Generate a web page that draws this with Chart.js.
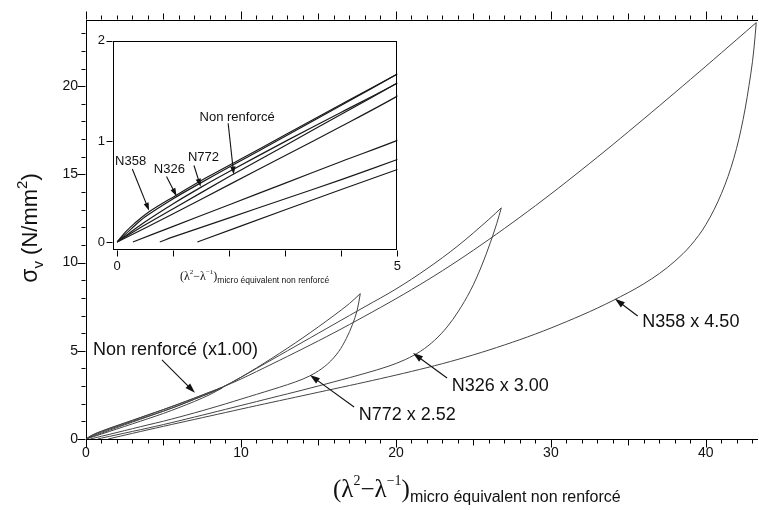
<!DOCTYPE html>
<html>
<head>
<meta charset="utf-8">
<script src="https://cdn.jsdelivr.net/npm/chart.js@4.4.1/dist/chart.umd.min.js"></script>
<style>
  html, body { margin: 0; padding: 0; background: #fff; }
  #wrap { position: relative; width: 759px; height: 510px; }
  #main { position: absolute; left: 0; top: 0; }
  #inset { position: absolute; left: 90px; top: 25px; }
</style>
</head>
<body>
<div id="wrap">
  <canvas id="main" width="759" height="510"></canvas>
  <canvas id="inset" width="320" height="268"></canvas>
</div>
<script>
const SANS = '"Liberation Sans", Arial, Helvetica, sans-serif';
const SERIF = '"Liberation Serif", "Times New Roman", serif';

// Non renforcé : charge / décharge
const nrLoadX = [0, 0.5, 1, 2, 3, 4, 5, 6, 7, 8, 8.8];
const nrLoadY = [0, 0.17, 0.33, 0.65, 0.96, 1.27, 1.58, 1.9, 2.25, 2.6, 2.9];
const nrUnloadX = [8.8, 8, 7, 6, 5, 4, 3, 2, 1, 0];
const nrUnloadY = [2.9, 2.52, 2.13, 1.78, 1.45, 1.15, 0.86, 0.57, 0.28, 0];

// N772 x 2.52
const n772LoadX = [0, 0.5, 1, 1.5, 2, 3, 4, 5, 6, 7, 8, 8.8, 10, 11, 12, 13, 14, 15, 16, 17, 17.7];
const n772LoadY = [0, 0.2, 0.38, 0.545, 0.7, 1.0, 1.29, 1.58, 1.91, 2.26, 2.62, 2.92, 3.5, 4.03, 4.58, 5.15, 5.74, 6.36, 7.0, 7.68, 8.24];
const n772UnloadX = [17.7, 17.5, 17.2, 16.8, 16.3, 15.6, 14.8, 14, 13, 12, 11, 10, 9, 8, 7, 6, 5, 4, 3, 2, 1, 0.28];
const n772UnloadY = [8.24, 7.3, 6.5, 5.7, 4.95, 4.26, 3.75, 3.4, 3.08, 2.8, 2.53, 2.26, 1.99, 1.73, 1.48, 1.24, 1.01, 0.8, 0.585, 0.37, 0.155, 0];

// N326 x 3.00
const n326LoadX = [0, 0.25, 0.5, 1, 1.5, 2, 3, 4, 5, 6, 7, 8, 8.8, 10, 12, 14, 16, 18, 20, 22, 24, 26, 26.8];
const n326LoadY = [0, 0.13, 0.25, 0.43, 0.59, 0.745, 1.05, 1.36, 1.67, 1.99, 2.32, 2.66, 2.94, 3.5, 4.5, 5.5, 6.5, 7.5, 8.5, 9.65, 10.95, 12.45, 13.1];
const n326UnloadX = [26.8, 26.5, 26.1, 25.5, 24.8, 24, 23.3, 22.5, 21.6, 20.6, 19.5, 18, 16, 14, 12, 10, 8, 6, 5, 4, 3, 2, 1, 0.76];
const n326UnloadY = [13.1, 12.2, 11.15, 9.75, 8.4, 7.2, 6.35, 5.6, 4.98, 4.5, 4.12, 3.72, 3.24, 2.78, 2.34, 1.9, 1.46, 1.03, 0.82, 0.62, 0.43, 0.24, 0.05, 0];

// N358 x 4.50
const n358LoadX = [0, 0.15, 0.3, 0.57, 1.04, 1.61, 2.19, 3, 4, 5, 6, 7, 8, 8.8, 10, 12, 14, 16, 18, 20, 22, 24, 26, 28, 30, 32, 34, 36, 38, 40, 42, 43.25];
const n358LoadY = [0, 0.1, 0.18, 0.3, 0.46, 0.645, 0.82, 1.065, 1.37, 1.67, 1.99, 2.32, 2.66, 2.94, 3.4, 4.25, 5.12, 6.02, 6.97, 7.95, 8.99, 10.11, 11.31, 12.57, 13.89, 15.27, 16.69, 18.15, 19.63, 21.13, 22.65, 23.6];
const n358UnloadX = [43.25, 43.1, 42.9, 42.4, 41.8, 41, 40, 39, 38, 37, 36, 35, 33, 31, 29, 27, 25, 23, 21, 19, 17, 15, 13, 11, 9, 7, 5, 3, 1.43];
const n358UnloadY = [23.6, 22.1, 20.7, 18.1, 15.9, 13.9, 12.15, 10.95, 10.08, 9.38, 8.8, 8.3, 7.42, 6.65, 5.95, 5.33, 4.77, 4.27, 3.83, 3.42, 3.03, 2.65, 2.27, 1.89, 1.5, 1.11, 0.72, 0.32, 0];

// Graduations étiquetées
const mainXLabels = [0, 10, 20, 30, 40];
const mainYLabels = [0, 5, 10, 15, 20];
const insetXLabels = [0, 5];
const insetYLabels = [0, 1, 2];

const curves = [
    [nrLoadX, nrLoadY], [nrUnloadX, nrUnloadY],
    [n772LoadX, n772LoadY], [n772UnloadX, n772UnloadY],
    [n326LoadX, n326LoadY], [n326UnloadX, n326UnloadY],
    [n358LoadX, n358LoadY], [n358UnloadX, n358UnloadY]
];

// Annotations (coordonnées en unités des données)
const mainNotes = [
    { text: 'Non renforcé (x1.00)', at: [0.45, 5.04], from: [4.9, 4.48], to: [7.03, 2.62] },
    { text: 'N772 x 2.52', at: [17.6, 1.36], from: [17.3, 1.81], to: [14.45, 3.63] },
    { text: 'N326 x 3.00', at: [23.6, 3.0], from: [23.3, 3.46], to: [21.1, 4.87] },
    { text: 'N358 x 4.50', at: [35.9, 6.63], from: [35.6, 6.97], to: [34.13, 7.95] }
];
const insetNotes = [
    { text: 'N358', at: [0.24, 0.8], from: [0.27, 0.725], to: [0.57, 0.31] },
    { text: 'N326', at: [0.93, 0.725], from: [0.88, 0.65], to: [1.06, 0.455] },
    { text: 'N772', at: [1.54, 0.84], from: [1.37, 0.76], to: [1.49, 0.55] },
    { text: 'Non renforcé', at: [2.14, 1.24], from: [1.98, 1.18], to: [2.08, 0.67] }
];

function makeDatasets(color, width) {
    return curves.map(function (c) {
        return {
            data: c[0].map((x, i) => ({ x: x, y: c[1][i] })),
            borderColor: color,
            borderWidth: width,
            pointRadius: 0,
            fill: false,
            tension: 0.35
        };
    });
}

function drawRich(ctx, parts, x, y) {
    let cx = x;
    parts.forEach(function (p) {
        ctx.font = p.font;
        ctx.fillText(p.t, cx, y + (p.dy || 0));
        cx += ctx.measureText(p.t).width;
    });
    return cx;
}

function richWidth(ctx, parts) {
    let w = 0;
    parts.forEach(function (p) { ctx.font = p.font; w += ctx.measureText(p.t).width; });
    return w;
}

function drawArrow(ctx, x0, y0, x1, y1, head) {
    const a = Math.atan2(y1 - y0, x1 - x0);
    const c = Math.cos(a), s = Math.sin(a);
    ctx.beginPath();
    ctx.moveTo(x0, y0);
    ctx.lineTo(x1 - c * head * 0.7, y1 - s * head * 0.7);
    ctx.stroke();
    ctx.beginPath();
    ctx.moveTo(x1, y1);
    ctx.lineTo(x1 - head * c + head * 0.33 * s, y1 - head * s - head * 0.33 * c);
    ctx.lineTo(x1 - head * c - head * 0.33 * s, y1 - head * s + head * 0.33 * c);
    ctx.closePath();
    ctx.fill();
}

// Petites graduations dessinées à partir des échelles
function drawTicks(ctx, scale, side, lenFor) {
    ctx.beginPath();
    for (let v = Math.ceil(scale.min); v <= Math.floor(scale.max); v++) {
        const len = lenFor(v);
        if (!len) continue;
        const p = Math.round(scale.getPixelForValue(v)) + 0.5;
        if (side === 'bottom') {
            const b = Math.round(scale.top) + 0.5;
            ctx.moveTo(p, b); ctx.lineTo(p, b + len);
        } else if (side === 'top') {
            const b = Math.round(scale.bottom) - 0.5;
            ctx.moveTo(p, b); ctx.lineTo(p, b - len);
        } else {
            const b = Math.round(scale.right) - 0.5;
            ctx.moveTo(b, p); ctx.lineTo(b - len, p);
        }
    }
    ctx.stroke();
}

function drawNotes(chart, notes, font, head, align) {
    const ctx = chart.ctx, sx = chart.scales.x, sy = chart.scales.y;
    ctx.save();
    ctx.fillStyle = '#111';
    ctx.strokeStyle = '#111';
    ctx.lineWidth = 1.1;
    ctx.font = font;
    ctx.textAlign = align;
    ctx.textBaseline = 'middle';
    notes.forEach(function (n) {
        ctx.fillText(n.text, sx.getPixelForValue(n.at[0]), sy.getPixelForValue(n.at[1]));
        drawArrow(ctx, sx.getPixelForValue(n.from[0]), sy.getPixelForValue(n.from[1]),
            sx.getPixelForValue(n.to[0]), sy.getPixelForValue(n.to[1]), head);
    });
    ctx.restore();
}

const mainDecor = {
    id: 'mainDecor',
    afterDraw: function (chart) {
        const ctx = chart.ctx, area = chart.chartArea;
        ctx.save();
        ctx.strokeStyle = '#000';
        ctx.lineWidth = 1;
        const xLen = v => v % 10 === 0 ? 8 : (v % 5 === 0 ? 6 : 4);
        drawTicks(ctx, chart.scales.x, 'bottom', xLen);
        drawTicks(ctx, chart.scales.x2, 'top', xLen);
        drawTicks(ctx, chart.scales.y, 'left', v => v % 5 === 0 ? 8 : 4);

        ctx.fillStyle = '#111';
        ctx.textAlign = 'left';
        ctx.textBaseline = 'alphabetic';
        // titre de l'axe x
        drawRich(ctx, [
            { t: '(λ', font: '25px ' + SERIF },
            { t: '2', font: '14px ' + SERIF, dy: -12 },
            { t: '−λ', font: '25px ' + SERIF },
            { t: '−1', font: '14px ' + SERIF, dy: -12 },
            { t: ')', font: '25px ' + SERIF },
            { t: 'micro équivalent non renforcé', font: '16px ' + SANS, dy: 5 }
        ], area.left + 247, area.bottom + 58);

        // titre de l'axe y
        const yParts = [
            { t: 'σ', font: '23px ' + SANS },
            { t: 'v', font: '15px ' + SANS, dy: 6 },
            { t: ' (N/mm', font: '22px ' + SANS },
            { t: '2', font: '15px ' + SANS, dy: -10 },
            { t: ')', font: '22px ' + SANS }
        ];
        ctx.translate(37, 228);
        ctx.rotate(-Math.PI / 2);
        drawRich(ctx, yParts, -richWidth(ctx, yParts) / 2, 0);
        ctx.restore();

        drawNotes(chart, mainNotes, '18px ' + SANS, 10, 'left');
    }
};

const insetDecor = {
    id: 'insetDecor',
    beforeDraw: function (chart) {
        const a = chart.chartArea, ctx = chart.ctx;
        ctx.save();
        ctx.fillStyle = '#fff';
        ctx.fillRect(a.left, a.top, a.right - a.left, a.bottom - a.top);
        ctx.restore();
    },
    afterDraw: function (chart) {
        const ctx = chart.ctx, a = chart.chartArea;
        ctx.save();
        ctx.strokeStyle = '#000';
        ctx.lineWidth = 1;
        ctx.strokeRect(Math.round(a.left) + 0.5, Math.round(a.top) + 0.5,
            Math.round(a.right - a.left) - 1, Math.round(a.bottom - a.top) - 1);
        drawTicks(ctx, chart.scales.x, 'bottom', v => 6);
        drawTicks(ctx, chart.scales.y, 'left', v => 6);

        ctx.fillStyle = '#111';
        ctx.textBaseline = 'alphabetic';
        drawRich(ctx, [
            { t: '(λ', font: '12px ' + SERIF },
            { t: '2', font: '7px ' + SERIF, dy: -6 },
            { t: '−λ', font: '12px ' + SERIF },
            { t: '−1', font: '7px ' + SERIF, dy: -6 },
            { t: ')', font: '12px ' + SERIF },
            { t: 'micro équivalent non renforcé', font: '8.5px ' + SANS, dy: 3 }
        ], a.left + 67, a.bottom + 30);
        ctx.restore();

        drawNotes(chart, insetNotes, '13px ' + SANS, 8, 'center');
    }
};

const noGrid = { display: false, drawTicks: false };
const axisBorder = { display: true, color: '#000', width: 1 };

new Chart(document.getElementById('main').getContext('2d'), {
    type: 'line',
    data: { datasets: makeDatasets('#444', 1) },
    options: {
        responsive: false,
        animation: false,
        devicePixelRatio: 1,
        events: [],
        layout: { padding: { top: 0, right: 2, bottom: 0, left: 0 } },
        plugins: { legend: { display: false }, tooltip: { enabled: false } },
        scales: {
            x: {
                type: 'linear', position: 'bottom', min: 0, max: 43.3,
                grid: noGrid, border: axisBorder,
                ticks: {
                    stepSize: 1, autoSkip: false, includeBounds: false, maxRotation: 0,
                    padding: 6, color: '#111', font: { family: SANS, size: 14 },
                    callback: v => mainXLabels.includes(v) ? v : ''
                },
                afterFit: s => { s.height = 71; }
            },
            x2: {
                type: 'linear', position: 'top', min: 0, max: 43.3,
                grid: noGrid, border: axisBorder,
                ticks: { display: false, stepSize: 1, includeBounds: false },
                afterFit: s => { s.height = 20; }
            },
            y: {
                type: 'linear', position: 'left', min: 0, max: 23.75,
                grid: noGrid, border: axisBorder,
                ticks: {
                    stepSize: 1, autoSkip: false, includeBounds: false,
                    padding: 8, color: '#111', font: { family: SANS, size: 14 },
                    callback: v => mainYLabels.includes(v) ? v : ''
                },
                afterFit: s => { s.width = 86; }
            }
        }
    },
    plugins: [mainDecor]
});

new Chart(document.getElementById('inset').getContext('2d'), {
    type: 'line',
    data: { datasets: makeDatasets('#1a1a1a', 1.2) },
    options: {
        responsive: false,
        animation: false,
        devicePixelRatio: 1,
        events: [],
        layout: { padding: { top: 8, right: 5, bottom: 0, left: 0 } },
        plugins: { legend: { display: false }, tooltip: { enabled: false } },
        scales: {
            x: {
                type: 'linear', min: -0.075, max: 5,
                grid: noGrid, border: { display: false },
                ticks: {
                    stepSize: 1, autoSkip: false, includeBounds: false, maxRotation: 0,
                    padding: 9, color: '#111', font: { family: SANS, size: 13 },
                    callback: v => insetXLabels.includes(v) ? v : ''
                },
                afterFit: s => { s.height = 43; }
            },
            y: {
                type: 'linear', min: -0.08, max: 2,
                grid: noGrid, border: { display: false },
                ticks: {
                    stepSize: 1, autoSkip: false, includeBounds: false,
                    padding: 8, color: '#111', font: { family: SANS, size: 13 },
                    callback: v => insetYLabels.includes(v) ? v : ''
                },
                afterFit: s => { s.width = 23; }
            }
        }
    },
    plugins: [insetDecor]
});
</script>
</body>
</html>
